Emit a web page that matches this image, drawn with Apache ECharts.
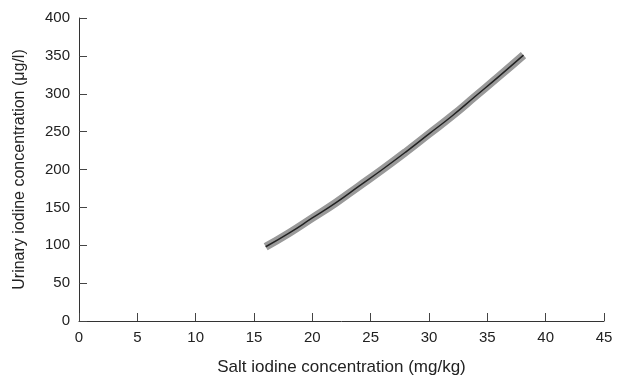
<!DOCTYPE html>
<html>
<head>
<meta charset="utf-8">
<script src="https://cdn.jsdelivr.net/npm/echarts@6/dist/echarts.min.js"></script>
<style>
    html, body { margin: 0; padding: 0; background: #fff; }
    #chart { width: 622px; height: 375px; }
</style>
</head>
<body>
<div id="chart"></div>
<script>
'use strict';
// values
var saltIodine = [16, 18, 20, 22, 24, 26, 28, 30, 32, 34, 36, 38.1];
var urinaryIodine = [98, 116, 136, 156, 178, 200, 223, 247, 271, 297, 323, 351];
var xTicks = [0, 5, 10, 15, 20, 25, 30, 35, 40, 45];
var yTicks = [0, 50, 100, 150, 200, 250, 300, 350, 400];

(function() {
    var chart = echarts.init(document.getElementById('chart'));
    var points = saltIodine.map(function(x, i) { return [x, urinaryIodine[i]]; });
    var font = 'Liberation Sans, Arial, sans-serif';
    var axisCommon = {
        axisLine: { lineStyle: { color: '#333', width: 1 } },
        axisTick: { inside: true, length: 8, lineStyle: { color: '#444' } },
        axisLabel: { color: '#222', fontSize: 15, fontFamily: font, margin: 9 },
        splitLine: { show: false }
    };

    chart.setOption({
        animation: false,
        grid: { left: 79, right: 18, top: 18, bottom: 54, outerBoundsMode: 'none', containLabel: false },
        xAxis: Object.assign({}, axisCommon, {
            type: 'value',
            min: xTicks[0],
            max: xTicks[xTicks.length - 1],
            interval: 5,
            name: 'Salt iodine concentration (mg/kg)',
            nameLocation: 'middle',
            nameGap: 38,
            nameTextStyle: { color: '#222', fontSize: 17, fontFamily: font }
        }),
        yAxis: Object.assign({}, axisCommon, {
            type: 'value',
            min: yTicks[0],
            max: yTicks[yTicks.length - 1],
            interval: 50,
            name: 'Urinary iodine concentration (\u03bcg/l)',
            nameLocation: 'middle',
            nameGap: 51,
            nameTextStyle: { color: '#222', fontSize: 16, fontFamily: font }
        }),
        series: [{
            type: 'line',
            data: points,
            smooth: true,
            showSymbol: false,
            lineStyle: { color: '#999', width: 8, cap: 'butt' }
        }, {
            type: 'line',
            data: points,
            smooth: true,
            showSymbol: false,
            lineStyle: { color: '#222', width: 1.5 }
        }]
    });
})();
</script>
</body>
</html>
